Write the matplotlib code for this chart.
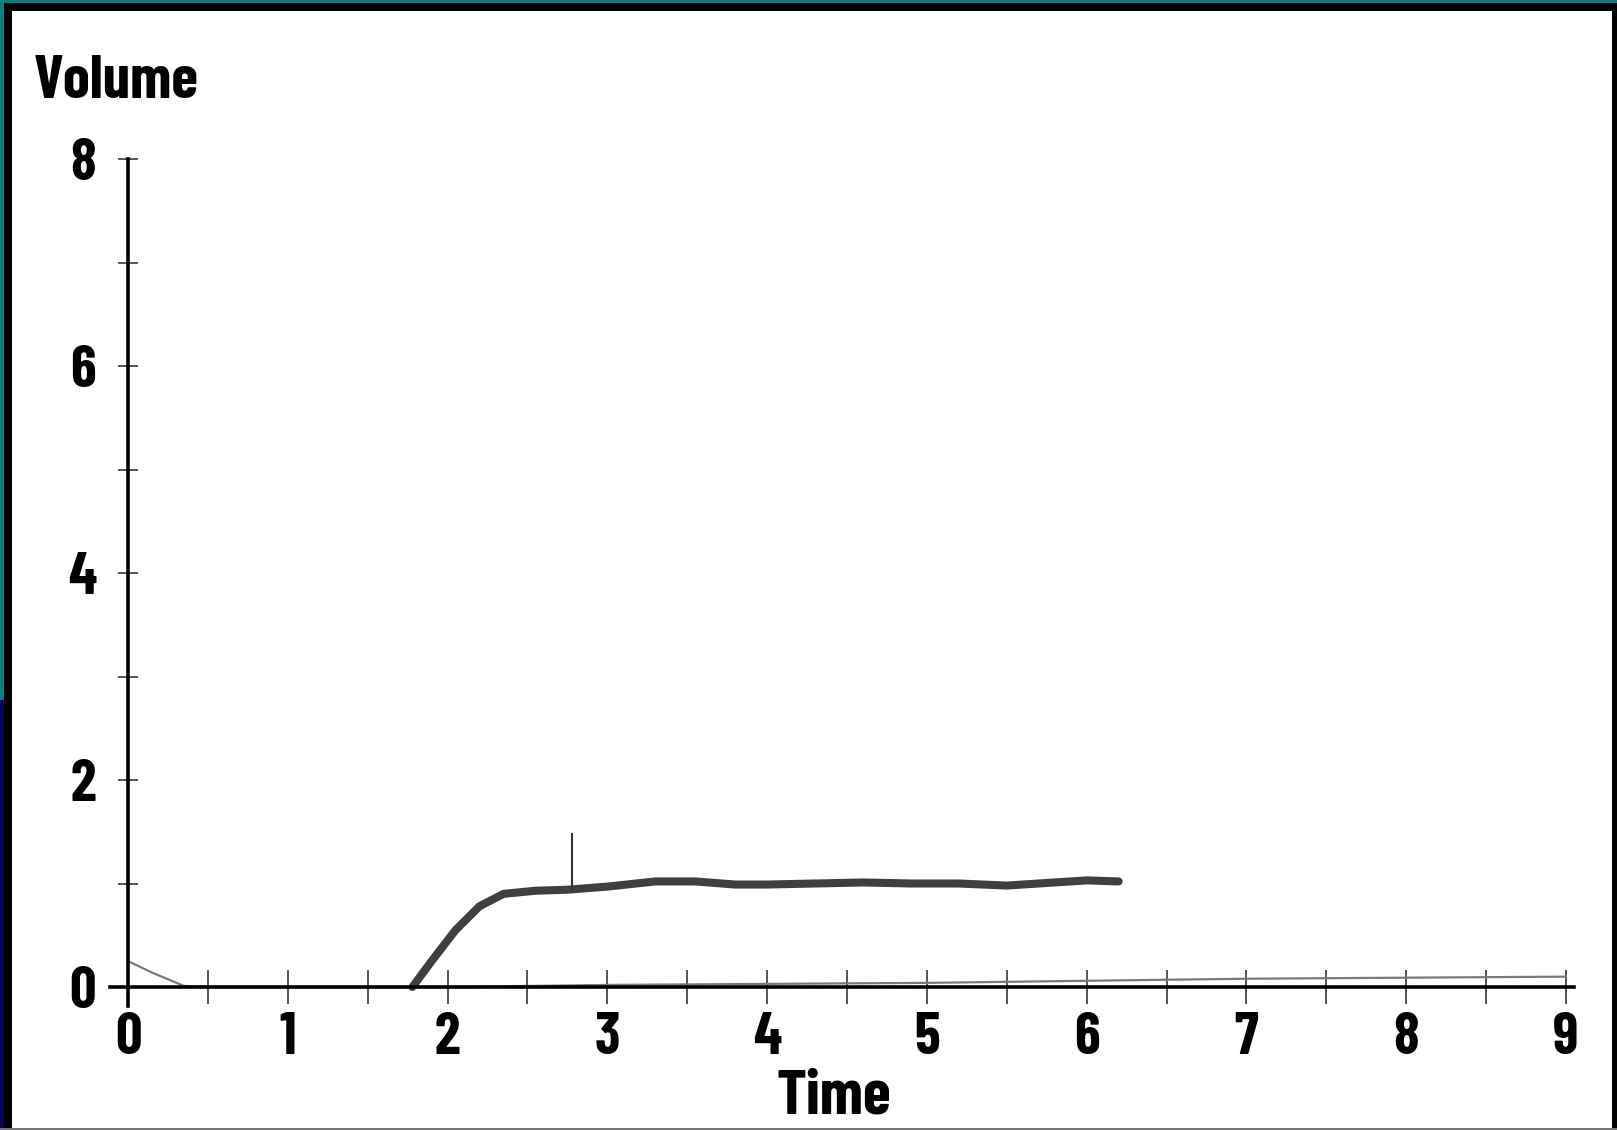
import matplotlib
matplotlib.use("Agg")
import matplotlib.pyplot as plt
from matplotlib.patches import Rectangle
from matplotlib.ticker import FixedLocator

# thick curve (rises after ~1.8 and levels off near 1)
thick_x = [1.78, 1.9, 2.05, 2.2, 2.35, 2.55, 2.75, 3.0, 3.3, 3.55, 3.8, 4.0,
           4.3, 4.6, 4.9, 5.2, 5.5, 5.8, 6.0, 6.2]
thick_y = [0.0, 0.25, 0.55, 0.78, 0.9, 0.93, 0.94, 0.97, 1.02, 1.02, 0.99,
           0.99, 1.0, 1.01, 1.0, 1.0, 0.98, 1.01, 1.03, 1.02]

# thin curve hugging the axis
thin_x = [0.0, 0.15, 0.35, 0.6, 1.0, 2.0, 3.0, 4.0, 5.0, 6.0, 7.0, 8.0, 9.0]
thin_y = [0.25, 0.14, 0.01, 0.0, 0.0, 0.0, 0.02, 0.03, 0.04, 0.06, 0.08, 0.09, 0.1]

# little vertical marker on the plateau
mark_x = [2.78, 2.78]
mark_y = [0.95, 1.48]

xticks = list(range(0, 10))
xminor = [0.5, 1.5, 2.5, 3.5, 4.5, 5.5, 6.5, 7.5, 8.5]
yticks = [0, 2, 4, 6, 8]
yminor = [1, 3, 5, 7]

W, H = 1617, 1130
plt.rcParams['font.family'] = ['Barlow Condensed', 'DejaVu Sans']
plt.rcParams['font.weight'] = 'bold'

fig = plt.figure(figsize=(W / 100, H / 100), dpi=100, facecolor='black')


def strip(x, y, w, h, color):
    # frame pieces, in pixels from the top-left corner
    fig.patches.append(Rectangle((x / W, 1 - (y + h) / H), w / W, h / H,
                                 transform=fig.transFigure, facecolor=color,
                                 edgecolor='none', zorder=-5))


strip(0, 0, W, 3, '#008080')
strip(0, 0, 4, 700, '#008080')
strip(0, 700, 4, H - 700, '#06065e')
strip(12, 11, 1612 - 12, 1128 - 11, 'white')
strip(0, 1128, W, 2, '#777777')

# axes placed so that x=0..9 and y=0..8 land where the reference has them
px0, px9 = 128, 1566
py0, py8 = 987, 159
xlo, xhi = -0.5, 9.3
ylo, yhi = -0.5, 8.2
ux = (px9 - px0) / 9
uy = (py0 - py8) / 8
left = (px0 + xlo * ux) / W
bottom = (H - py0 + ylo * uy) / H
ax = fig.add_axes([left, bottom, (xhi - xlo) * ux / W, (yhi - ylo) * uy / H])
ax.set_facecolor('none')
ax.set_xlim(xlo, xhi)
ax.set_ylim(ylo, yhi)

ax.plot(thin_x, thin_y, color='#7a7a7a', lw=1.6, zorder=2)
ax.plot(thick_x, thick_y, color='#3f3f3f', lw=5.8, solid_capstyle='round',
        solid_joinstyle='round', zorder=3)
ax.plot(mark_x, mark_y, color='#333333', lw=1.5, zorder=3)

for s in ['top', 'right']:
    ax.spines[s].set_visible(False)
ax.spines['left'].set_position(('data', 0))
ax.spines['bottom'].set_position(('data', 0))
ax.spines['left'].set_bounds(-0.18, 8)
ax.spines['bottom'].set_bounds(-0.11, 9.05)
for s in ['left', 'bottom']:
    ax.spines[s].set_linewidth(2.6)
    ax.spines[s].set_color('black')
    ax.spines[s].set_zorder(4)

ax.set_xticks(xticks)
ax.set_yticks(yticks)
ax.xaxis.set_minor_locator(FixedLocator(xminor))
ax.yaxis.set_minor_locator(FixedLocator(yminor))
ax.tick_params(axis='x', which='both', direction='inout', length=24, width=1.4,
               color='#555555', pad=6, labelsize=42)
ax.tick_params(axis='y', which='both', direction='inout', length=14, width=1.4,
               color='#555555', pad=16, labelsize=42)
for lab in ax.get_xticklabels() + ax.get_yticklabels():
    lab.set_fontweight('bold')

fig.text(34 / W, 1 - 98 / H, 'Volume', fontsize=44, fontweight='bold',
         ha='left', va='baseline')
fig.text(834 / W, 1 - 1113 / H, 'Time', fontsize=46, fontweight='bold',
         ha='center', va='baseline')

fig.savefig('out.png', dpi=100, facecolor=fig.get_facecolor())
